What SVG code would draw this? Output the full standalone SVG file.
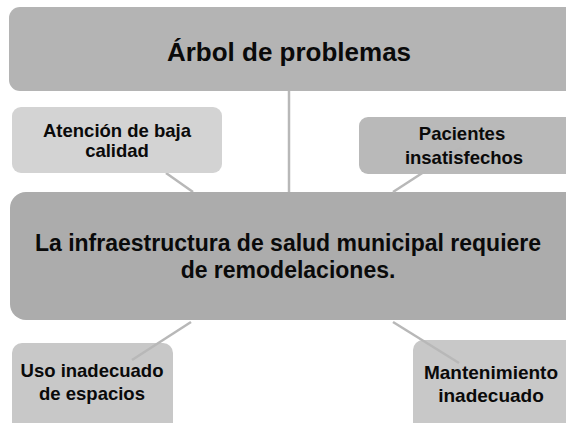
<svg xmlns="http://www.w3.org/2000/svg" width="566" height="423" viewBox="0 0 566 423">
<style>
text{font-family:"Liberation Sans",Arial,sans-serif;font-weight:bold;fill:#0a0a0a;text-anchor:middle}
.s{font-size:18.5px}
.c{stroke:#b8b8b8;stroke-width:2.5;fill:none}
</style>
<rect width="566" height="423" fill="#ffffff"/>
<g id="connectors-back">
<line class="c" x1="289" y1="91" x2="289" y2="192" stroke="#a8a8a8"/>
<line class="c" x1="166" y1="173" x2="193" y2="192"/>
</g>
<g id="title">
<rect x="9" y="7" width="570" height="84" rx="11" fill="#b4b4b4"/>
<text x="289" y="61" font-size="26">Árbol de problemas</text>
</g>
<g id="atencion">
<rect x="12" y="107" width="210" height="66" rx="9" fill="#d3d3d3"/>
<text class="s" x="117" y="137">Atención de baja</text>
<text class="s" x="117" y="157">calidad</text>
</g>
<g id="pacientes">
<rect x="359" y="117" width="215" height="57" rx="9" fill="#b9b9b9"/>
<line class="c" x1="430" y1="168" x2="461" y2="148" stroke="#bebebe"/>
<text class="s" x="462" y="140">Pacientes</text>
<text class="s" x="464" y="164">insatisfechos</text>
</g>
<g id="main">
<rect x="10" y="192" width="570" height="128" rx="16" fill="#acacac"/>
<text x="288" y="251" font-size="23">La infraestructura de salud municipal requiere</text>
<text x="288" y="278" font-size="23">de remodelaciones.</text>
</g>
<g id="uso">
<rect x="12" y="343" width="161" height="95" rx="10" fill="#c8c8c8"/>
<text class="s" x="92" y="377">Uso inadecuado</text>
<text class="s" x="92" y="400">de espacios</text>
</g>
<g id="mantenimiento">
<rect x="413" y="340" width="170" height="98" rx="10" fill="#c8c8c8"/>
<text x="491" y="379" font-size="19">Mantenimiento</text>
<text x="491" y="402" font-size="19">inadecuado</text>
</g>
<g id="connectors">
<line class="c" x1="393" y1="192" x2="430" y2="168" stroke="#bebebe"/>
<line class="c" x1="191" y1="322" x2="132" y2="360" stroke="#b4b4b4"/>
<line class="c" x1="393" y1="322" x2="459" y2="363" stroke="#b4b4b4"/>
</g>
</svg>
